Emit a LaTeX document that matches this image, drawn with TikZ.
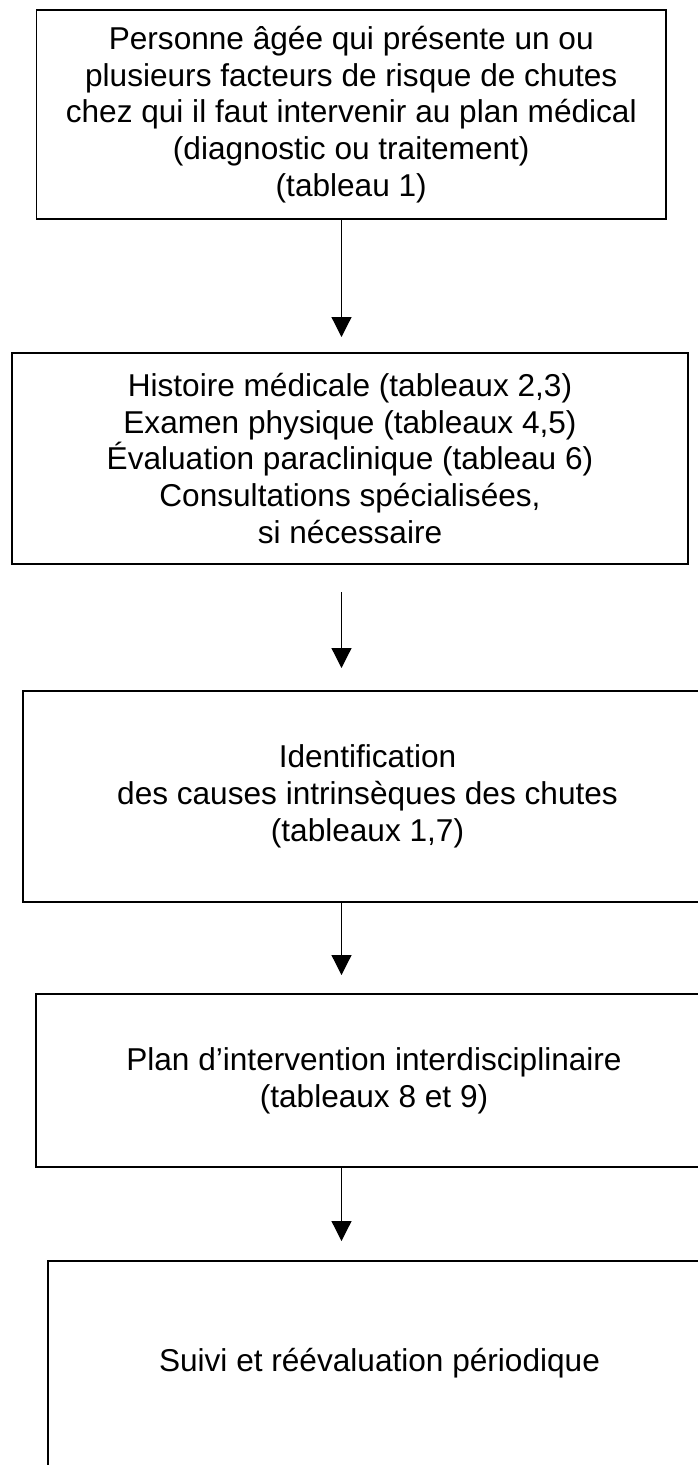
\documentclass[tikz,border=0pt]{standalone}
\usepackage{fontspec}
\setmainfont{Liberation Sans}
\usetikzlibrary{arrows.meta}
\begin{document}
\begin{tikzpicture}[x=0.75pt,y=-0.75pt,
  box/.style={draw=black, line width=1.1pt, inner sep=0pt, outer sep=0pt, align=center,
    font=\fontsize{23.7}{27.6}\selectfont},
  arr/.style={draw=black, line width=0.9pt, -{Triangle[width=15pt,length=15pt]}}]
\useasboundingbox (0,0) rectangle (698,1465);
\node[box, minimum width={629.5*0.75pt}, minimum height={209*0.75pt}] (b1) at (351.25,114.5)
  {Personne âgée qui présente un ou\\plusieurs facteurs de risque de chutes\\chez qui il faut intervenir au plan médical\\(diagnostic ou traitement)\\(tableau 1)};
\node[box, minimum width={676*0.75pt}, minimum height={211*0.75pt}] (b2) at (350,458.5)
  {Histoire médicale (tableaux 2,3)\\Examen physique (tableaux 4,5)\\Évaluation paraclinique (tableau 6)\\Consultations spécialisées,\\si nécessaire};
\node[box, minimum width={689*0.75pt}, minimum height={211*0.75pt}] (b3) at (367.5,796.5)
  {Identification\\des causes intrinsèques des chutes\\(tableaux 1,7)};
\node[box, minimum width={676*0.75pt}, minimum height={173*0.75pt}] (b4) at (374,1080.5)
  {Plan d’intervention interdisciplinaire\\(tableaux 8 et 9)};
\node[box, minimum width={663*0.75pt}, minimum height={260*0.75pt}] (b5) at (379.5,1391)
  {Suivi et réévaluation périodique\rule[-47pt]{0pt}{47pt}};
\coordinate (t1) at (341.5,337);
\coordinate (s2) at (341.5,592);
\coordinate (t2) at (341.5,668);
\coordinate (t3) at (341.5,975);
\coordinate (t4) at (341.5,1241);
\draw[arr] (b1.south -| t1) -- (t1);
\draw[arr] (s2) -- (t2);
\draw[arr] (b3.south -| t3) -- (t3);
\draw[arr] (b4.south -| t4) -- (t4);
\end{tikzpicture}
\end{document}
